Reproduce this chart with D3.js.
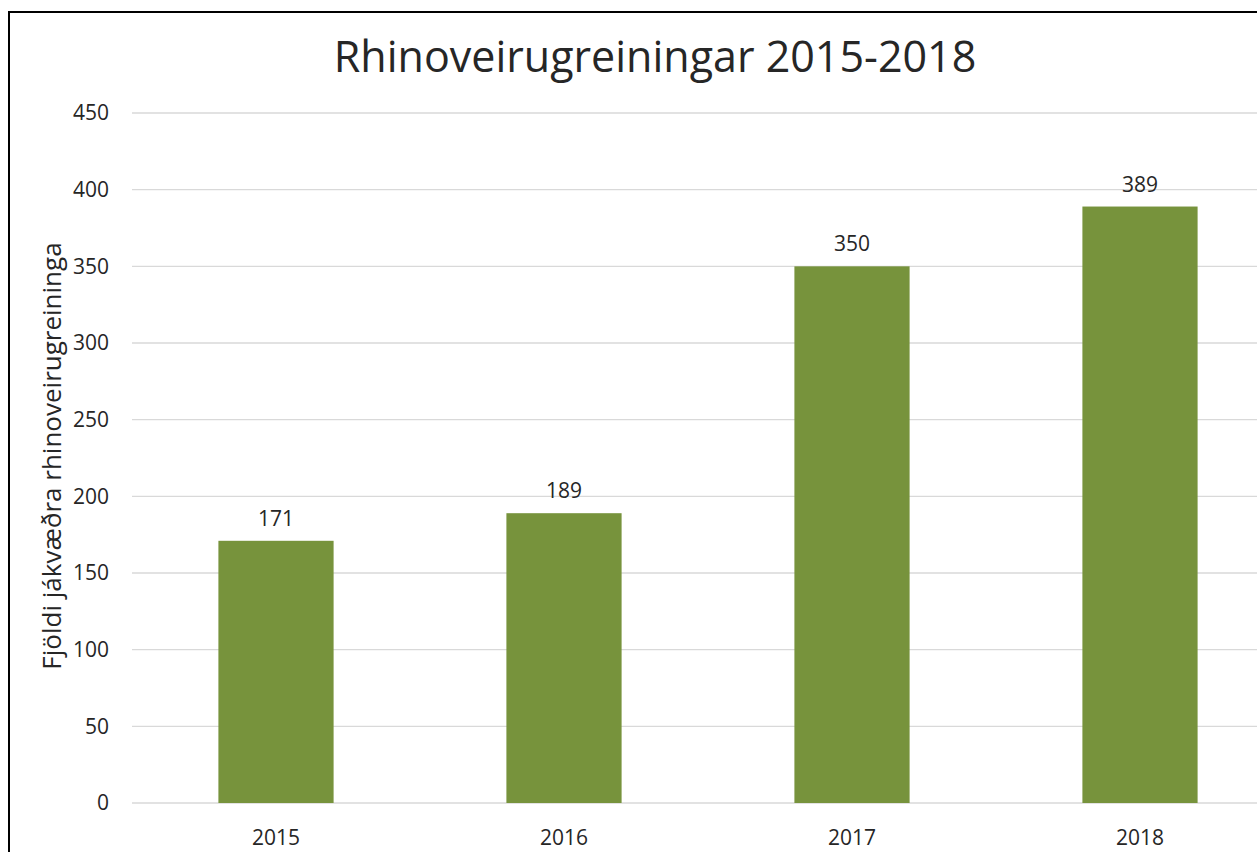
<!DOCTYPE html>
<html>
<head>
<meta charset="utf-8">
<script src="https://cdn.jsdelivr.net/npm/d3@7"></script>
<style>
  body { margin: 0; background: #fff; overflow: hidden; }
  text { font-family: 'Open Sans', 'Noto Sans', sans-serif; fill: #262626; }
</style>
</head>
<body>
<div id="chart"></div>
<script>
let years = ['2015', '2016', '2017', '2018']
let counts = [171, 189, 350, 389]
let yTicks = [0, 50, 100, 150, 200, 250, 300, 350, 400, 450]

let totalWidth = 1257
let totalHeight = 852

let svg = d3
  .select('#chart')
  .append('svg')
  .attr('width', totalWidth)
  .attr('height', totalHeight)

// chart border (only top + left show in the crop)
svg
  .append('path')
  .attr('d', 'M9,852 V12 H1257')
  .attr('fill', 'none')
  .attr('stroke', '#000')
  .attr('stroke-width', 2)

let plot = { left: 132, right: 1284, top: 113, bottom: 803 }

let xPositionScale = d3
  .scaleBand()
  .domain(years)
  .range([plot.left, plot.right])
  .paddingInner(0.6)
  .paddingOuter(0.3)

let yPositionScale = d3
  .scaleLinear()
  .domain([0, 450])
  .range([plot.bottom, plot.top])

// gridlines
svg
  .selectAll('.grid')
  .data(yTicks)
  .enter()
  .append('line')
  .attr('class', 'grid')
  .attr('x1', plot.left)
  .attr('x2', totalWidth)
  .attr('y1', d => yPositionScale(d))
  .attr('y2', d => yPositionScale(d))
  .attr('stroke', '#d9d9d9')
  .attr('stroke-width', 1.3)

// y axis labels
let yAxis = d3.axisLeft(yPositionScale).tickValues(yTicks).tickSize(0).tickPadding(23)
svg
  .append('g')
  .attr('class', 'axis y-axis')
  .attr('transform', 'translate(' + plot.left + ',0)')
  .call(yAxis)
  .call(g => g.select('.domain').remove())
  .selectAll('text')
  .style('font-size', '21px')
  .attr('fill', '#262626')

// bars
svg
  .selectAll('.bar')
  .data(counts)
  .enter()
  .append('rect')
  .attr('class', 'bar')
  .attr('x', (d, i) => xPositionScale(years[i]))
  .attr('y', d => yPositionScale(d))
  .attr('width', xPositionScale.bandwidth())
  .attr('height', d => plot.bottom - yPositionScale(d))
  .attr('fill', '#77933c')

// value labels
svg
  .selectAll('.value')
  .data(counts)
  .enter()
  .append('text')
  .attr('class', 'value')
  .attr('x', (d, i) => xPositionScale(years[i]) + xPositionScale.bandwidth() / 2)
  .attr('y', d => yPositionScale(d) - 15)
  .attr('text-anchor', 'middle')
  .style('font-size', '21px')
  .text(d => d)

// x axis labels
let xAxis = d3.axisBottom(xPositionScale).tickSize(0).tickPadding(27)
svg
  .append('g')
  .attr('class', 'axis x-axis')
  .attr('transform', 'translate(0,' + plot.bottom + ')')
  .call(xAxis)
  .call(g => g.select('.domain').remove())
  .selectAll('text')
  .style('font-size', '21px')
  .attr('fill', '#262626')

// title
svg
  .append('text')
  .attr('x', 655)
  .attr('y', 72)
  .attr('text-anchor', 'middle')
  .style('font-size', '43px')
  .attr('fill', '#000')
  .text('Rhinoveirugreiningar 2015-2018')

// y axis title
svg
  .append('text')
  .attr('transform', 'translate(61,456) rotate(-90)')
  .attr('text-anchor', 'middle')
  .style('font-size', '26px')
  .attr('fill', '#000')
  .text('Fjöldi jákvæðra rhinoveirugreininga')
</script>
</body>
</html>
